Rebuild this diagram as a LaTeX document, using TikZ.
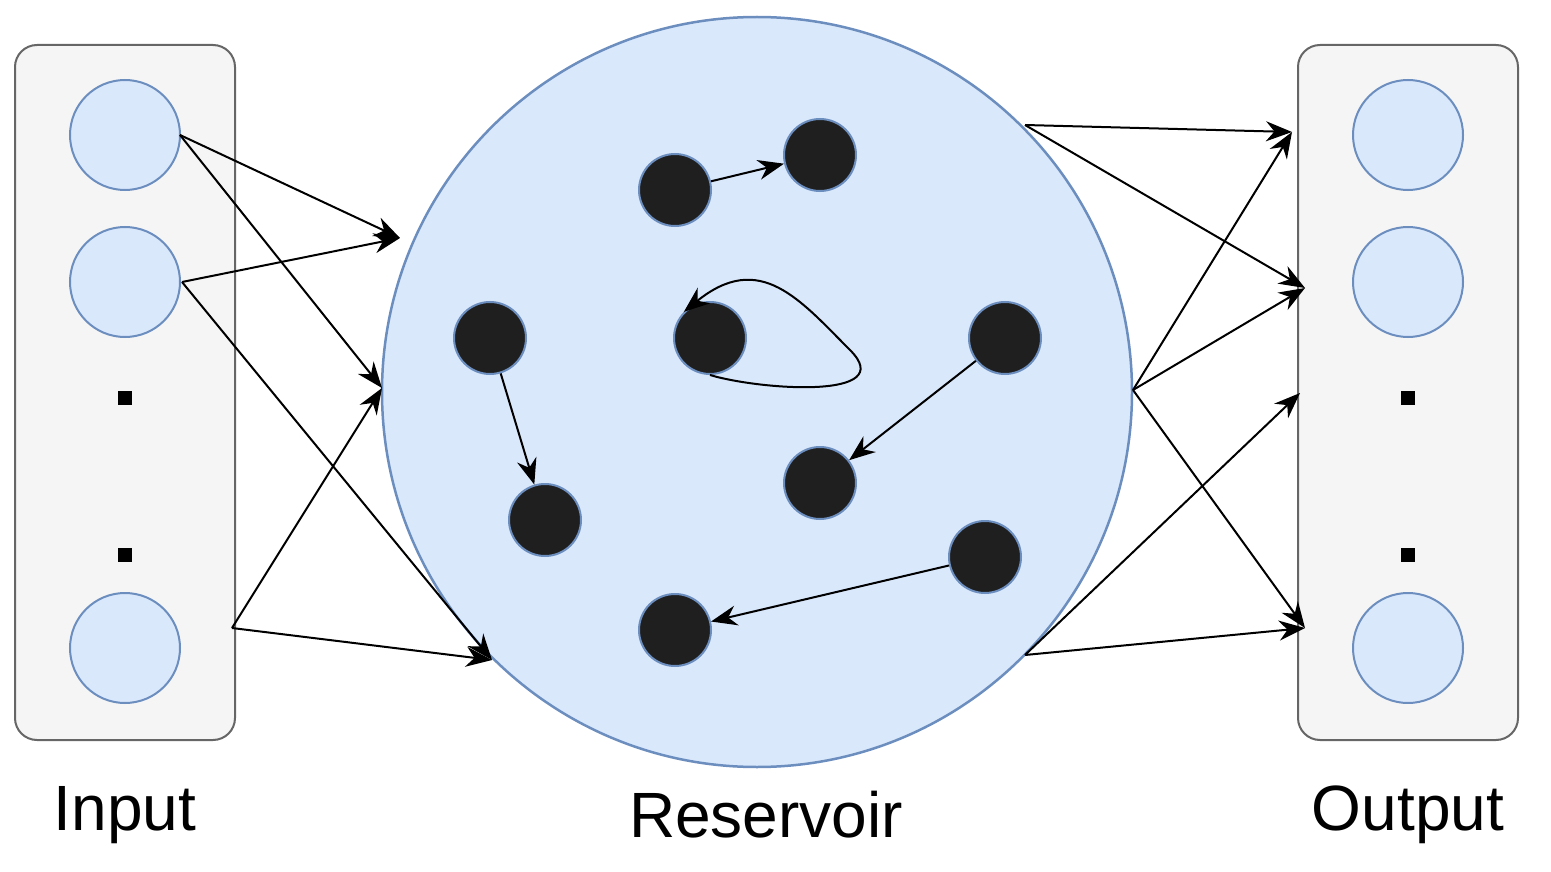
\documentclass[tikz,border=0pt]{standalone}
\usepackage{fontspec}
\setmainfont{Liberation Sans}
\usetikzlibrary{arrows.meta}
\definecolor{boxfill}{HTML}{F5F5F5}
\definecolor{boxline}{HTML}{666666}
\definecolor{bfill}{HTML}{DAE8FC}
\definecolor{bline}{HTML}{6C8EBF}
\begin{document}
\begin{tikzpicture}[x=1pt,y=-1pt,
  box/.style={draw=boxline,fill=boxfill,rounded corners=22pt,line width=2pt},
  io/.style={circle,draw=bline,fill=bfill,line width=2pt,minimum size=110pt,inner sep=0},
  neu/.style={circle,draw=bline,fill=black!88,line width=2pt,minimum size=72pt,inner sep=0},
  arr/.style={-{Stealth[length=26pt,width=20pt]},line width=2pt},
  lab/.style={font=\fontsize{64}{70}\selectfont}]
\useasboundingbox (0,0) rectangle (1551,872);
\draw[box] (15,45) rectangle (235,740);
\draw[box] (1298,45) rectangle (1518,740);
\node[circle,draw=bline,fill=bfill,line width=2.5pt,minimum size=750pt,inner sep=0] (R) at (757,392) {};
\node[io] (i1) at (125,135) {};
\node[io] (i2) at (125,282) {};
\node[io] (i3) at (125,648) {};
\node[io] (o1) at (1408,135) {};
\node[io] (o2) at (1408,282) {};
\node[io] (o3) at (1408,648) {};
\foreach \x in {125,1408}{\fill (\x-7,391) rectangle (\x+7,405); \fill (\x-7,548) rectangle (\x+7,562);}
\node[neu] (n1) at (675,190) {};
\node[neu] (n2) at (820,155) {};
\node[neu] (n3) at (490,338) {};
\node[neu] (n4) at (710,338) {};
\node[neu] (n5) at (1005,338) {};
\node[neu] (n6) at (545,520) {};
\node[neu] (n7) at (820,483) {};
\node[neu] (n8) at (985,557) {};
\node[neu] (n9) at (675,630) {};
% input connectors
\coordinate (a1) at (180,135); \coordinate (a2) at (182,282); \coordinate (a3) at (232,628);
\coordinate (t1) at (400,238); \coordinate (t2) at (382,388); \coordinate (t3) at (492,660);
\draw[arr] (a1) -- (t1); \draw[arr] (a1) -- (t2);
\draw[arr] (a2) -- (t1); \draw[arr] (a2) -- (t3);
\draw[arr] (a3) -- (t2); \draw[arr] (a3) -- (t3);
% output connectors
\coordinate (b1) at (1025,125); \coordinate (b2) at (1133,390); \coordinate (b3) at (1025,655);
\coordinate (u1) at (1292,132); \coordinate (u2) at (1305,288); \coordinate (u3) at (1300,393); \coordinate (u4) at (1305,628);
\draw[arr] (b1) -- (u1); \draw[arr] (b1) -- (u2);
\draw[arr] (b2) -- (u1); \draw[arr] (b2) -- (u2); \draw[arr] (b2) -- (u4);
\draw[arr] (b3) -- (u3); \draw[arr] (b3) -- (u4);
% internal
\draw[arr] (n1) -- (n2);
\draw[arr] (n3) -- (n6);
\draw[arr] (n5) -- (n7);
\draw[arr] (n8) -- (n9);
\draw[arr] (n4.south) .. controls (760,390) and (900,400) .. (850,350) .. controls (800,300) and (760,250) .. (n4.north west);
\node[lab] (L1) at (125,815) {Input};
\node[lab] (L2) at (766,815) {Reservoir};
\node[lab] (L3) at (1408,815) {Output};
\end{tikzpicture}
\end{document}
